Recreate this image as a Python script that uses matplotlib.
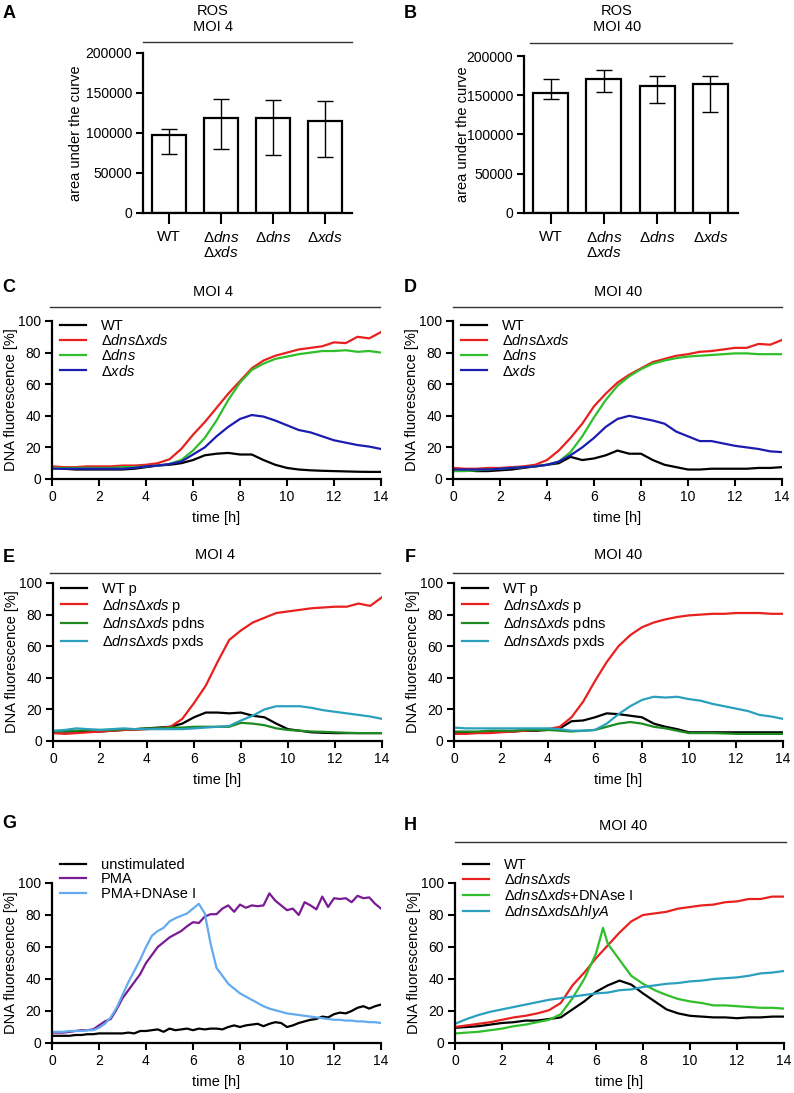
import numpy as np
import matplotlib
matplotlib.use("Agg")
import matplotlib.pyplot as plt

plt.rcParams['font.family'] = ['Liberation Sans', 'DejaVu Sans']
plt.rcParams['mathtext.fontset'] = 'custom'
plt.rcParams['mathtext.rm'] = 'Liberation Sans'
plt.rcParams['mathtext.it'] = 'Liberation Sans:italic'
plt.rcParams['font.size'] = 10

W, H = 794, 1093

# ---- bar data (area under the curve) ----
bar_labels = ['WT', '$\\Delta\\mathit{dns}$\n$\\Delta\\mathit{xds}$', '$\\Delta\\mathit{dns}$', '$\\Delta\\mathit{xds}$']
ros_moi4 = [97900, 119200, 118400, 114600]
ros_moi4_lo = [73200, 79900, 72000, 69500]
ros_moi4_hi = [105400, 143100, 141000, 139700]
ros_moi40 = [153100, 170400, 161900, 164900]
ros_moi40_lo = [144600, 154300, 140400, 128500]
ros_moi40_hi = [170400, 181800, 175100, 175100]

# ---- time courses (h) ----
hours = [0, 0.5, 1, 1.5, 2, 2.5, 3, 3.5, 4, 4.5, 5, 5.5, 6, 6.5, 7, 7.5,
         8, 8.5, 9, 9.5, 10, 10.5, 11, 11.5, 12, 12.5, 13, 13.5, 14]

c_wt = [7, 6.5, 6, 6, 6, 6, 6, 6.5, 7.5, 8.5, 9, 10, 12, 15, 16, 16.5, 15.5, 15.5, 12, 9, 7, 6, 5.5, 5.2, 5, 4.8, 4.6, 4.5, 4.5]
c_dd = [8, 7.5, 7.5, 8, 8, 8, 8.5, 8.5, 9, 10, 12.5, 19, 28, 36, 45, 54, 62, 70, 75, 78, 80, 82, 83, 84, 86.5, 86, 90, 89, 93]
c_dns = [7, 7, 7, 7, 7, 7, 7.5, 7.5, 8, 8.5, 9.5, 12, 18, 26, 37, 50, 61, 69, 73, 76, 77.5, 79, 80, 81, 81, 81.5, 80.5, 81, 80]
c_xds = [6.5, 6.5, 6.5, 6.5, 6.5, 6.5, 6.5, 7, 8, 8.5, 9.5, 11, 15.5, 20, 27, 33, 38, 40.5, 39.5, 37, 34, 31, 29.5, 27, 24.5, 23, 21.5, 20.5, 19]

d_wt = [6, 5.5, 5, 5, 5.5, 6, 7, 8, 9, 10, 14, 12, 13, 15, 18, 16, 16, 12, 9, 7.5, 6, 6, 6.5, 6.5, 6.5, 6.5, 7, 7, 7.5]
d_dd = [7, 6.5, 6.5, 7, 7, 7.5, 8, 9, 12, 18, 26, 35, 46, 54, 61, 66, 70, 74, 76, 78, 79, 80.5, 81, 82, 83, 83, 85.5, 85, 88]
d_dns = [5, 5, 5.5, 6, 6.5, 7, 7.5, 8, 9, 11, 17, 27, 39, 50, 59, 65, 69.5, 73, 75, 76.5, 77.5, 78, 78.5, 79, 79.5, 79.5, 79, 79, 79]
d_xds = [6, 6, 6, 6, 6.5, 7, 7.5, 8, 9, 11, 15, 20, 26, 33, 38, 40, 38.5, 37, 35, 30, 27, 24, 24, 22.5, 21, 20, 19, 17.5, 17]

e_wt = [6, 6, 6, 6, 6, 6.5, 7, 7.5, 8, 8.5, 9, 11, 15, 18, 18, 17.5, 18, 16, 15, 11, 7.5, 6.5, 5.5, 5.2, 5, 5, 5, 5, 5]
e_dd = [5, 4.5, 5, 5.5, 6, 6.5, 7, 7, 7.5, 8, 9, 14, 24, 35, 50, 64, 70, 75, 78, 81, 82, 83, 84, 84.5, 85, 85, 87, 85.5, 91]
e_pdns = [6, 6.5, 6.5, 7, 7, 7, 7.5, 7.5, 8, 8, 8.5, 8.5, 9, 9, 9, 9, 11.5, 11, 10, 8, 7, 6.5, 6, 5.8, 5.5, 5.2, 5, 5, 5]
e_pxds = [6.5, 7, 8, 7.5, 7, 7.5, 8, 7.5, 7.5, 7.5, 7.5, 7.5, 8, 8.5, 9, 9.5, 13, 16, 20, 22, 22, 22, 21, 19.5, 18.5, 17.5, 16.5, 15.5, 14]

f_wt = [5, 5, 5.5, 5.5, 6, 6, 6.5, 6.5, 7, 8, 12.5, 13, 15, 17.5, 17, 16, 15, 11, 9, 7.5, 5.5, 5.5, 5.5, 5.5, 5.5, 5.5, 5.5, 5.5, 5.5]
f_dd = [4.5, 4.5, 5, 5, 5.5, 6, 6.5, 7, 7.5, 9, 15, 25, 38, 50, 60, 67, 72, 75, 77, 78.5, 79.5, 80, 80.5, 80.5, 81, 81, 81, 80.5, 80.5]
f_pdns = [6, 6, 6, 6.5, 6.5, 6.5, 7, 7, 7, 6.5, 6, 6.5, 7, 9, 11, 12, 11, 9, 8, 6.5, 5, 5, 5, 4.8, 4.5, 4.5, 4.5, 4.5, 4.5]
f_pxds = [8.5, 8, 8, 8, 8, 8, 8, 8, 8, 7.5, 6.5, 6.5, 7, 11, 17, 22, 26, 28, 27.5, 28, 26.5, 25.5, 23.5, 22, 20.5, 19, 16.5, 15.5, 14]

g_hours = [0, 0.25, 0.5, 0.75, 1, 1.25, 1.5, 1.75, 2, 2.25, 2.5, 2.75, 3, 3.25, 3.5, 3.75,
           4, 4.25, 4.5, 4.75, 5, 5.25, 5.5, 5.75, 6, 6.25, 6.5, 6.75, 7, 7.25, 7.5, 7.75,
           8, 8.25, 8.5, 8.75, 9, 9.25, 9.5, 9.75, 10, 10.25, 10.5, 10.75, 11, 11.25, 11.5, 11.75,
           12, 12.25, 12.5, 12.75, 13, 13.25, 13.5, 13.75, 14]
g_unstim = [4.5, 4.5, 4.5, 4.5, 5, 5, 5.5, 5.5, 6, 6, 6, 6, 6, 6.5, 6, 7.5,
            7.5, 8, 8.5, 7, 9, 8, 8.5, 9, 8, 9, 8.5, 9, 9, 8.5, 10, 11,
            10, 11, 11.5, 12, 10.5, 12, 13, 12.5, 10, 11, 12.5, 13.5, 14.5, 15, 16.5, 16,
            18, 19, 18.5, 20, 22, 23, 21.5, 23, 24]
g_pma = [6.5, 6.5, 6.5, 7, 7.5, 8, 8, 8.5, 11, 13.5, 15, 21, 28, 33, 38, 43,
         50, 55, 60, 63, 66, 68, 70, 73, 75.5, 75, 79, 80.5, 80.5, 84, 86, 82,
         86.5, 84.5, 86, 85.5, 86, 93.5, 89, 86, 83, 84, 80, 88, 86, 83.5, 91.5, 85,
         90.5, 90, 90.5, 88, 92, 90.5, 91, 87, 84]
g_pma_dnase = [7, 7, 7, 7.5, 7.5, 7.5, 8, 8, 9.5, 12, 16, 22, 30, 38, 45, 52,
               60, 67, 70, 72, 76, 78, 79.5, 81, 84, 87, 81, 62, 47, 42, 37, 34,
               31, 29, 27, 25, 23, 21.5, 20.5, 19.5, 18.5, 18, 17.5, 17, 16.5, 16, 15.5, 15,
               14.5, 14.5, 14, 14, 13.5, 13.5, 13, 13, 12.5]

h_wt = [9.5, 10, 10.5, 11.5, 12.5, 13, 14, 14, 15, 16, 21, 26, 32, 36, 39, 36.5, 31, 26, 21, 18.5, 17, 16.5, 16, 16, 15.5, 16, 16, 16.5, 16.5]
h_dd = [10, 11, 12, 13, 14.5, 16, 17, 18.5, 20.5, 25, 36, 44, 53, 61, 69, 76, 80, 81, 82, 84, 85, 86, 86.5, 88, 88.5, 90, 90, 91.5, 91.5]
h_dnase_hours = [0, 0.5, 1, 1.5, 2, 2.5, 3, 3.5, 4, 4.5, 5, 5.5, 6, 6.3, 6.5, 7, 7.5,
                 8, 8.5, 9, 9.5, 10, 10.5, 11, 11.5, 12, 12.5, 13, 13.5, 14]
h_dnase = [6, 6.5, 7, 8, 9, 10.5, 11.5, 13, 14.5, 18, 28, 40, 56, 72, 62, 52, 42,
           37, 33, 30, 27.5, 26, 25, 23.5, 23.5, 23, 22.5, 22, 22, 21.5]
h_hly = [12, 15, 17.5, 19.5, 21, 22.5, 24, 25.5, 27, 28, 29, 30, 31, 31.5, 33, 33.5, 35, 36, 37, 37.5, 38.5, 39, 40, 40.5, 41, 42, 43.5, 44, 45]

BLACK = '#000000'
RED = '#e8211f'
GREEN = '#2fbf2a'
BLUE = '#1c1cb0'
DKGREEN = '#1e8a22'
CYAN = '#2aa0bd'
PURPLE = '#7a1a94'
LTBLUE = '#63aaee'

dns = '$\\Delta\\mathit{dns}$'
xds = '$\\Delta\\mathit{xds}$'
dd = '$\\Delta\\mathit{dns}\\Delta\\mathit{xds}$'

fig = plt.figure(figsize=(W / 100, H / 100), dpi=100)


def px_axes(l, t, r, b):
    return fig.add_axes([l / W, 1 - b / H, (r - l) / W, (b - t) / H])


def style(ax):
    for s in ['top', 'right']:
        ax.spines[s].set_visible(False)
    for s in ['left', 'bottom']:
        ax.spines[s].set_linewidth(1.6)
    ax.tick_params(width=1.5, length=5, direction='out', labelsize=10, pad=3)


def header(ax, y, x0=0, x1=1):
    ax.plot([x0, x1], [y, y], transform=ax.transAxes, clip_on=False, color='#333333', lw=1.0)


def bar_panel(ax, vals, lo, hi):
    style(ax)
    x = np.arange(len(vals))
    err = [np.array(vals) - np.array(lo), np.array(hi) - np.array(vals)]
    ax.bar(x, vals, width=0.66, color='white', edgecolor='black', linewidth=1.6)
    ax.errorbar(x, vals, yerr=err, fmt='none', ecolor='black', elinewidth=1.0, capsize=6, capthick=1.0)
    ax.set_xlim(-0.5, 3.52)
    ax.set_ylim(0, 200000)
    ax.set_yticks([0, 50000, 100000, 150000, 200000])
    ax.set_xticks(x)
    ax.set_xticklabels(bar_labels, linespacing=1.0, fontsize=11)
    ax.tick_params(axis='x', length=8, pad=4)
    ax.set_ylabel('area under the curve', fontsize=10.5)


def line_panel(ax, series, legend_y=1.005):
    style(ax)
    for xs, ys, col, lab in series:
        ax.plot(xs, ys, color=col, lw=1.6, label=lab)
    ax.set_xlim(0, 14)
    ax.set_ylim(0, 100)
    ax.set_xticks(range(0, 15, 2))
    ax.set_yticks(range(0, 101, 20))
    ax.set_xlabel('time [h]', fontsize=10.5)
    ax.set_ylabel('DNA fluorescence [%]', fontsize=10.5)
    ax.yaxis.set_label_coords(-0.104, 0.5)
    ax.xaxis.set_label_coords(0.5, -0.2)
    ax.legend(loc='upper left', bbox_to_anchor=(0.025, legend_y), frameon=False,
              fontsize=10.5, handlelength=1.8, handletextpad=1.0, labelspacing=0.02,
              borderpad=0, borderaxespad=0)


# A
axA = px_axes(143, 53, 352, 213)
bar_panel(axA, ros_moi4, ros_moi4_lo, ros_moi4_hi)
axA.yaxis.set_label_coords(-0.287, 0.5)
header(axA, 1.069)
fig.text(213 / W, 1 - 19 / H, 'ROS\nMOI 4', ha='center', va='center', fontsize=10.5, linespacing=1.25)

# B
axB = px_axes(524, 56, 738, 213)
bar_panel(axB, ros_moi40, ros_moi40_lo, ros_moi40_hi)
axB.yaxis.set_label_coords(-0.252, 0.5)
header(axB, 1.083, 0.03, 0.97)
fig.text(617 / W, 1 - 19 / H, 'ROS\nMOI 40', ha='center', va='center', fontsize=10.5, linespacing=1.25)

# C
axC = px_axes(52, 321, 381, 479)
line_panel(axC, [(hours, c_wt, BLACK, 'WT'), (hours, c_dd, RED, dd),
                 (hours, c_dns, GREEN, dns), (hours, c_xds, BLUE, xds)], legend_y=1.015)
header(axC, 1.089, -0.006, 0.997)
fig.text(213 / W, 1 - 292 / H, 'MOI 4', ha='center', va='center', fontsize=10.5)

# D
axD = px_axes(453, 321, 782, 479)
line_panel(axD, [(hours, d_wt, BLACK, 'WT'), (hours, d_dd, RED, dd),
                 (hours, d_dns, GREEN, dns), (hours, d_xds, BLUE, xds)], legend_y=1.015)
header(axD, 1.089, 0.0, 1.0)
fig.text(618 / W, 1 - 292 / H, 'MOI 40', ha='center', va='center', fontsize=10.5)

# E
axE = px_axes(53, 583, 382, 741)
line_panel(axE, [(hours, e_wt, BLACK, 'WT p'), (hours, e_dd, RED, dd + ' p'),
                 (hours, e_pdns, DKGREEN, dd + ' pdns'), (hours, e_pxds, CYAN, dd + ' pxds')])
header(axE, 1.063, -0.009, 0.994)
fig.text(215 / W, 1 - 555 / H, 'MOI 4', ha='center', va='center', fontsize=10.5)

# F
axF = px_axes(454, 583, 783, 741)
line_panel(axF, [(hours, f_wt, BLACK, 'WT p'), (hours, f_dd, RED, dd + ' p'),
                 (hours, f_pdns, DKGREEN, dd + ' pdns'), (hours, f_pxds, CYAN, dd + ' pxds')])
header(axF, 1.063, -0.003, 1.0)
fig.text(618 / W, 1 - 555 / H, 'MOI 40', ha='center', va='center', fontsize=10.5)

# G
axG = px_axes(52, 883, 381, 1043)
line_panel(axG, [(g_hours, g_unstim, BLACK, 'unstimulated'), (g_hours, g_pma, PURPLE, 'PMA'),
                 (g_hours, g_pma_dnase, LTBLUE, 'PMA+DNAse I')], legend_y=1.155)

# H
axH = px_axes(455, 883, 784, 1043)
line_panel(axH, [(hours, h_wt, BLACK, 'WT'), (hours, h_dd, RED, dd),
                 (h_dnase_hours, h_dnase, GREEN, dd + '+DNAse I'),
                 (hours, h_hly, CYAN, '$\\Delta\\mathit{dns}\\Delta\\mathit{xds}\\Delta\\mathit{hlyA}$')],
            legend_y=1.155)
header(axH, 1.256, 0.0, 1.006)
fig.text(623 / W, 1 - 826 / H, 'MOI 40', ha='center', va='center', fontsize=10.5)

# panel letters
for lab, x, y in [('A', 9, 14), ('B', 410, 14), ('C', 9, 287), ('D', 410, 287),
                  ('E', 9, 557), ('F', 410, 557), ('G', 9, 823), ('H', 410, 826)]:
    fig.text(x / W, 1 - y / H, lab, ha='center', va='center', fontsize=13, fontweight='bold')

fig.savefig('out.png', dpi=100)
